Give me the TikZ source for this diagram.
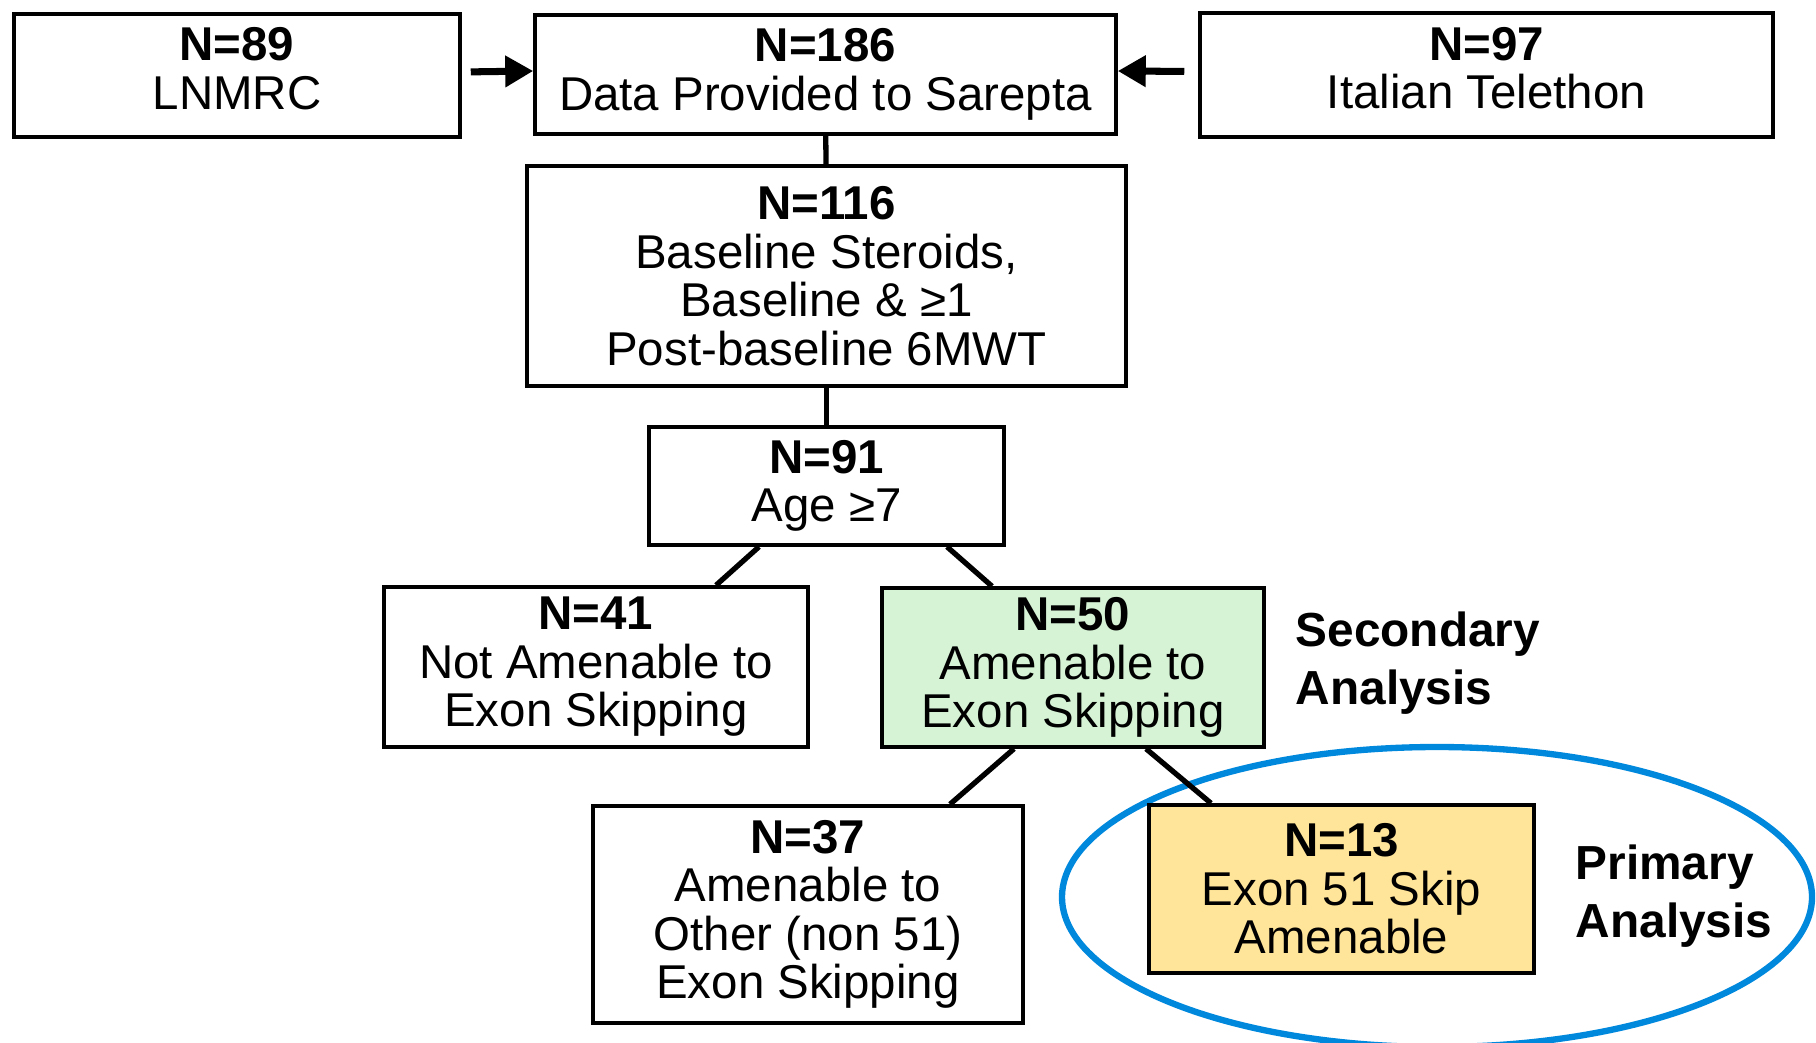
\documentclass[tikz,border=0pt]{standalone}
\usepackage{fontspec}
\setmainfont{Liberation Sans}
\usetikzlibrary{arrows.meta}
\definecolor{lightgreen}{RGB}{214,243,214}
\definecolor{lightgold}{RGB}{255,229,153}
\definecolor{ringblue}{RGB}{0,136,221}
\begin{document}
\begin{tikzpicture}[
    box/.style={draw, line width=1pt, align=center, inner sep=0pt,
      font=\fontsize{13.5}{13.8}\selectfont},
    link/.style={line width=1.5pt},
    feed/.style={line width=2pt, -{Triangle[length=0.28cm, width=0.3cm]}},
    tag/.style={align=left, anchor=west, inner sep=0pt,
      font=\fontsize{13.6}{16.4}\selectfont\bfseries}
  ]
    \useasboundingbox (0, 0) rectangle (18.16, -10.42) ;
    \draw[line width=1.8pt, draw=ringblue] (14.37, -8.97) ellipse (3.75 and 1.5) ;
    \node[box, minimum width=4.46cm, minimum height=1.23cm] (n89) at (2.37, -.755) {\textbf{N=89}\\LNMRC\rule[-.14cm]{0pt}{0pt}} ;
    \node[box, minimum width=5.81cm, minimum height=1.19cm] (n186) at (8.255, -.745) {\textbf{N=186}\\Data Provided to Sarepta} ;
    \node[box, minimum width=5.73cm, minimum height=1.24cm] (n97) at (14.865, -.75) {\textbf{N=97}\\Italian Telethon\rule[-.14cm]{0pt}{0pt}} ;
    \node[box, minimum width=5.99cm, minimum height=2.2cm] (n116) at (8.265, -2.76) {\textbf{N=116}\\Baseline Steroids,\\Baseline \& ≥1\\Post-baseline 6MWT} ;
    \node[box, minimum width=3.55cm, minimum height=1.18cm] (n91) at (8.265, -4.86) {\textbf{N=91}\\Age ≥7} ;
    \node[box, minimum width=4.24cm, minimum height=1.6cm] (n41) at (5.96, -6.67) {\textbf{N=41}\\Not Amenable to\\Exon Skipping} ;
    \node[box, fill=lightgreen, minimum width=3.82cm, minimum height=1.59cm] (n50) at (10.73, -6.675) {\textbf{N=50}\\Amenable to\\Exon Skipping} ;
    \node[box, minimum width=4.3cm, minimum height=2.17cm] (n37) at (8.08, -9.145) {\textbf{N=37}\\Amenable to\\Other (non 51)\\Exon Skipping} ;
    \node[box, fill=lightgold, minimum width=3.85cm, minimum height=1.68cm] (n13) at (13.415, -8.89) {\textbf{N=13}\\Exon 51 Skip\\Amenable} ;
    \node[tag] (sec) at (12.95, -6.63) {Secondary\\Analysis} ;
    \node[tag] (prim) at (15.75, -8.96) {Primary\\Analysis} ;
    \draw[feed, shorten <=0.09cm] ([yshift=.035cm]n89.east) -- ([yshift=.035cm]n186.west) ;
    \draw[feed, shorten <=0.14cm] ([yshift=.035cm]n97.west) -- ([yshift=.035cm]n186.east) ;
    \draw[link] (n186) -- (n116) ;
    \draw[link] (n116) -- (n91) ;
    \draw[link] ([xshift=-.675cm]n91.south) -- ([xshift=1.2cm]n41.north) ;
    \draw[link] ([xshift=1.205cm]n91.south) -- ([xshift=-.81cm]n50.north) ;
    \draw[link] ([xshift=-.59cm]n50.south) -- ([xshift=1.42cm]n37.north) ;
    \draw[link] ([xshift=.73cm]n50.south) -- ([xshift=-1.305cm]n13.north) ;
  \end{tikzpicture}
\end{document}
